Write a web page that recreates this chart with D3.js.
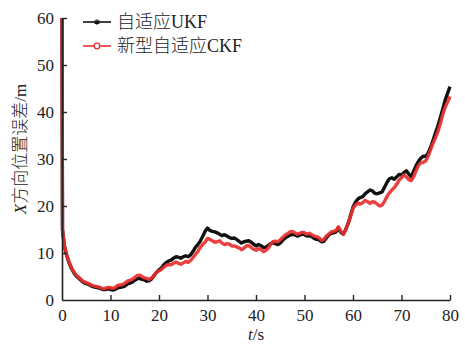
<!DOCTYPE html>
<html>
<head>
<meta charset="utf-8">
<script src="https://cdn.jsdelivr.net/npm/d3@7"></script>
</head>
<body style="margin:0">
<svg id="chart" width="465" height="345"></svg>
<script>
// Series names shown in the legend
const seriesNames = ["自适应UKF", "新型自适应CKF"];

// Tick values for both axes
const xTicks = [0, 10, 20, 30, 40, 50, 60, 70, 80];
const yTicks = [0, 10, 20, 30, 40, 50, 60];

// Sample times (s): the initial instant, the first update, then every 0.5 s
const timeSec = [0, 0.1].concat(d3.range(1, 161).map(i => i * 0.5));

// X-direction position error (m), adaptive UKF
const ukfError = [60, 15,
  11.4, 9.3, 7.8, 6.6, 5.7, 5.0, 4.6, 4.1, 3.7, 3.5,
  3.3, 3.0, 2.8, 2.7, 2.6, 2.4, 2.2, 2.2, 2.4, 2.2,
  2.1, 2.3, 2.6, 2.7, 2.8, 3.0, 3.4, 3.6, 3.8, 4.2,
  4.5, 4.6, 4.4, 4.3, 4.0, 4.1, 4.5, 5.2, 5.9, 6.4,
  6.8, 7.5, 8.0, 8.3, 8.5, 8.9, 9.2, 9.1, 8.9, 9.2,
  9.4, 9.2, 9.6, 10.3, 11.2, 11.8, 12.5, 13.5, 14.6, 15.3,
  14.8, 14.6, 14.5, 14.3, 14.0, 13.7, 13.9, 13.6, 13.3, 13.1,
  13.2, 12.9, 12.5, 12.1, 12.4, 12.5, 12.6, 12.3, 11.9, 11.5,
  11.8, 11.6, 11.2, 11.2, 11.6, 12.0, 12.2, 12.0, 11.8, 12.1,
  12.7, 13.2, 13.5, 13.8, 13.9, 13.9, 13.6, 13.8, 14.0, 13.9,
  13.6, 13.7, 13.5, 13.1, 12.9, 12.8, 12.4, 12.5, 13.2, 13.8,
  14.2, 14.3, 14.5, 15.2, 14.4, 14.0, 15.0, 16.3, 18.0, 19.8,
  20.8, 21.5, 21.8, 22.0, 22.6, 23.0, 23.4, 23.2, 22.7, 22.6,
  22.8, 23.0, 24.0, 25.0, 25.8, 26.0, 25.7, 26.2, 26.7, 26.6,
  27.1, 27.5, 26.8, 26.2, 27.4, 28.6, 29.5, 30.2, 30.6, 30.5,
  31.3, 32.5, 34.0, 35.5, 37.0, 38.8, 40.6, 42.5, 44.0, 45.4];

// X-direction position error (m), new adaptive CKF
const ckfError = [60, 15,
  11.6, 9.5, 8.0, 6.8, 5.9, 5.2, 4.8, 4.3, 3.9, 3.7,
  3.5, 3.2, 3.0, 2.9, 2.8, 2.6, 2.4, 2.5, 2.7, 2.6,
  2.5, 2.7, 3.1, 3.2, 3.3, 3.6, 4.0, 4.2, 4.4, 4.8,
  5.2, 5.3, 5.0, 4.7, 4.6, 4.4, 4.7, 5.3, 5.9, 6.2,
  6.5, 7.0, 7.4, 7.5, 7.5, 7.8, 8.1, 7.8, 7.6, 7.9,
  8.2, 8.0, 8.4, 9.0, 9.7, 10.3, 11.2, 11.8, 12.3, 13.1,
  12.9, 12.6, 12.3, 12.4, 12.6, 12.1, 11.8, 12.0, 11.9, 11.5,
  11.5, 11.3, 11.1, 10.7, 11.0, 11.5, 11.6, 11.2, 10.8, 10.6,
  10.9, 10.8, 10.3, 10.5, 11.0, 11.8, 12.4, 12.5, 12.4, 12.8,
  13.3, 13.8, 14.1, 14.5, 14.6, 14.3, 14.0, 14.2, 14.4, 14.3,
  14.0, 14.2, 13.9, 13.6, 13.5, 13.2, 12.7, 12.9, 13.6, 14.0,
  14.5, 14.6, 14.8, 15.6, 14.6, 14.0, 15.0, 16.3, 17.8, 19.5,
  20.2, 20.6, 20.4, 20.7, 21.2, 20.9, 20.6, 20.9, 20.8, 20.4,
  20.0, 20.2, 21.0, 22.0, 22.8, 23.4, 23.9, 24.6, 25.5, 26.0,
  26.6, 26.2, 25.6, 25.4, 26.2, 27.5, 28.6, 29.2, 29.3, 29.6,
  30.6, 32.0, 33.4, 34.5, 35.8, 37.5, 39.4, 41.0, 42.1, 43.3];

const svg = d3.select("#chart");
const W = 465, H = 345;
const margin = { left: 62, right: 15, top: 18, bottom: 45 };
const plotW = W - margin.left - margin.right;
const plotH = H - margin.top - margin.bottom;

const x = d3.scaleLinear().domain([0, 80]).range([margin.left, margin.left + plotW]);
const y = d3.scaleLinear().domain([0, 60]).range([margin.top + plotH, margin.top]);

const SERIF = "Liberation Serif";
const CJK = "Noto Sans CJK SC";

const line = d3.line()
  .x((d, i) => x(timeSec[i]))
  .y(d => y(d));

const black = "#111111";
const red = "#e8302f";

// Error curves
svg.append("path").datum(ukfError)
  .attr("d", line)
  .attr("fill", "none")
  .attr("stroke", black)
  .attr("stroke-width", 3.4)
  .attr("stroke-linejoin", "round");

svg.append("path").datum(ckfError)
  .attr("d", line)
  .attr("fill", "none")
  .attr("stroke", red)
  .attr("stroke-opacity", 0.92)
  .attr("stroke-width", 3.4)
  .attr("stroke-linejoin", "round");

// Axes: ticks point inward, no outer ticks
const axisColor = "#222";
const xAxis = svg.append("g")
  .attr("transform", `translate(0,${margin.top + plotH})`)
  .call(d3.axisBottom(x).tickValues(xTicks).tickSizeInner(-5).tickSizeOuter(0).tickPadding(9));
const yAxis = svg.append("g")
  .attr("transform", `translate(${margin.left},0)`)
  .call(d3.axisLeft(y).tickValues(yTicks).tickSizeInner(-5).tickSizeOuter(0).tickPadding(8));

[xAxis, yAxis].forEach(g => {
  g.attr("font-family", SERIF).attr("font-size", 17);
  g.select(".domain").attr("stroke", axisColor).attr("stroke-width", 1.6);
  g.selectAll(".tick line").attr("stroke", axisColor).attr("stroke-width", 1.4);
  g.selectAll(".tick text")
    .attr("fill", "#222")
    .attr("font-family", SERIF)
    .attr("font-size", 17);
});
xAxis.selectAll(".tick line").filter(d => d === 0).remove();
yAxis.selectAll(".tick line").filter(d => d === 0).remove();

// Axis titles
const xTitle = svg.append("text")
  .attr("x", x(40))
  .attr("y", 340)
  .attr("text-anchor", "middle")
  .attr("fill", "#222")
  .attr("font-family", SERIF)
  .attr("font-size", 17);
xTitle.append("tspan").attr("font-family", SERIF).attr("font-style", "italic").text("t");
xTitle.append("tspan").attr("font-family", SERIF).text("/s");

const yTitle = svg.append("text")
  .attr("transform", `translate(26,${y(30) - 10}) rotate(-90)`)
  .attr("text-anchor", "middle")
  .attr("fill", "#222")
  .attr("font-family", SERIF)
  .attr("font-size", 17);
yTitle.append("tspan").attr("font-family", SERIF).attr("font-style", "italic").text("X");
yTitle.append("tspan").attr("font-family", CJK).attr("font-weight", 300).text("方向位置误差");
yTitle.append("tspan").attr("font-family", SERIF).text("/m");

// Legend
const legend = svg.append("g").attr("transform", "translate(83,0)");
const legendRows = [
  { name: seriesNames[0], color: black, cy: 22, marker: "star" },
  { name: seriesNames[1], color: red, cy: 46, marker: "circle" }
];
legendRows.forEach(r => {
  const g = legend.append("g");
  g.append("line")
    .attr("x1", 0).attr("x2", 28)
    .attr("y1", r.cy).attr("y2", r.cy)
    .attr("stroke", r.color).attr("stroke-width", 1.6);
  if (r.marker === "circle") {
    g.append("circle").attr("cx", 14).attr("cy", r.cy).attr("r", 2.8)
      .attr("fill", "#fff").attr("stroke", r.color).attr("stroke-width", 1.3);
  } else {
    g.append("path")
      .attr("transform", `translate(14,${r.cy})`)
      .attr("d", d3.symbol(d3.symbolAsterisk, 22)())
      .attr("stroke", r.color).attr("stroke-width", 1.2).attr("fill", "none");
  }
  const t = g.append("text")
    .attr("x", 34).attr("y", r.cy + 6)
    .attr("fill", "#222")
    .attr("font-family", SERIF)
    .attr("font-size", 18);
  const m = r.name.match(/^([^A-Z]+)([A-Z]+)$/);
  t.append("tspan").attr("font-family", CJK).attr("font-weight", 300).text(m[1]);
  t.append("tspan").attr("font-family", SERIF).text(m[2]);
});
</script>
</body>
</html>
